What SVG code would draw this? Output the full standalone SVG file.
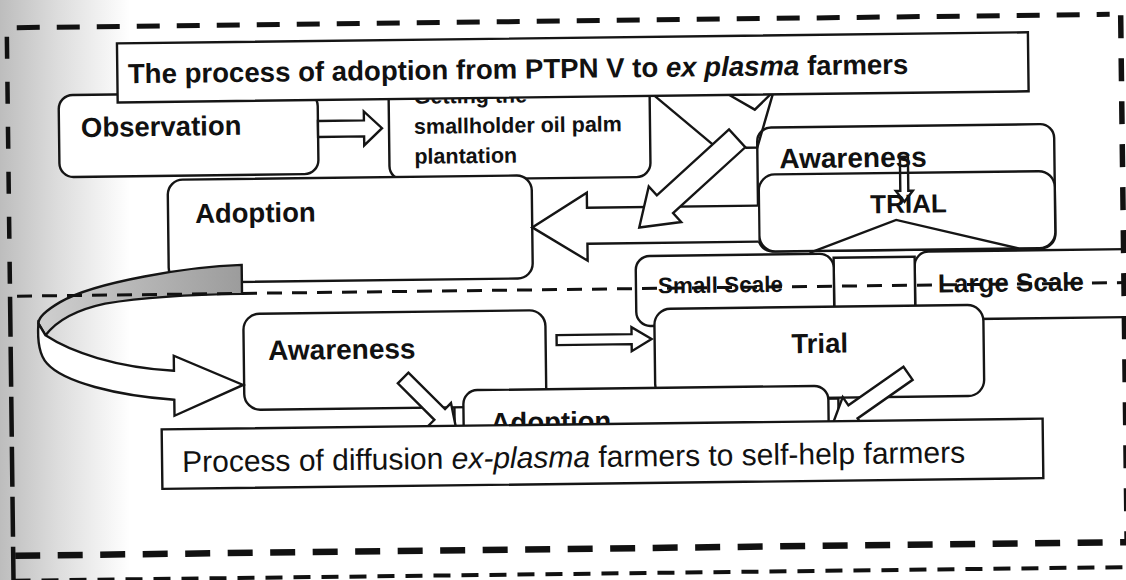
<svg xmlns="http://www.w3.org/2000/svg" width="1126" height="580" viewBox="0 0 1126 580">
<defs>
<linearGradient id="scan" x1="0" y1="0" x2="1" y2="0">
<stop offset="0" stop-color="#bdbdbd"/><stop offset="0.45" stop-color="#dddddd"/><stop offset="1" stop-color="#ffffff"/>
</linearGradient>
<linearGradient id="shade" x1="0" y1="0" x2="1" y2="0">
<stop offset="0" stop-color="#cfcfcf"/><stop offset="1" stop-color="#9c9c9c"/>
</linearGradient>
<style>
.box{fill:#fff;stroke:#151515;stroke-width:2.4}
.ln{fill:none;stroke:#151515;stroke-width:2.4}
.arr{fill:#fff;stroke:#151515;stroke-width:2.4;stroke-linejoin:miter}
.lb{font-family:"Liberation Sans",Arial,sans-serif;font-weight:bold;fill:#111}
.tt{font-family:"Liberation Sans",Arial,sans-serif;fill:#111}
.dash{fill:none;stroke:#111}
</style>
</defs>
<rect width="1126" height="580" fill="#fff"/>
<rect width="130" height="580" fill="url(#scan)"/>
<g transform="rotate(-0.7 563 290)">
<g id="node-getting">
<rect class="box" x="391" y="70" width="261" height="108" rx="14"/>
<text class="lb" font-size="21.5"><tspan x="416" y="102">Getting the</tspan><tspan x="416" y="132">smallholder oil palm</tspan><tspan x="416" y="162">plantation</tspan></text>
</g>
<g id="node-observation">
<rect class="box" x="61" y="89" width="259" height="82" rx="14"/>
<text class="lb" font-size="27.5" x="83" y="131">Observation</text>
</g>
<g id="node-adoption-1">
<rect class="box" x="169" y="175" width="364" height="103" rx="15"/>
<text class="lb" font-size="27.5" x="196" y="218.5">Adoption</text>
</g>
<g id="node-large-scale">
<rect class="box" x="915" y="256" width="240" height="68" rx="14"/>
<text class="lb" font-size="26" x="938" y="297">Large Scale</text>
</g>
<g id="node-link">
<rect class="box" x="834" y="261" width="81" height="60"/>
</g>
<g id="node-small-scale">
<rect class="box" x="636" y="257" width="198" height="70" rx="14"/>
<text class="lb" font-size="22.5" x="658" y="294.5">Small Scale</text>
</g>
<g id="node-awareness-1">
<rect class="box" x="759" y="130" width="297" height="124" rx="14"/>
<text class="lb" font-size="28" x="781" y="171">Awareness</text>
</g>
<g id="node-trial-1">
<rect class="box" x="760" y="177" width="296" height="77" rx="16"/>
<text class="lb" font-size="26" x="909.5" y="217" text-anchor="middle">TRIAL</text>
</g>
<g id="node-back">
<rect class="box" x="453" y="402" width="384" height="40"/>
</g>
<g id="node-awareness-2">
<rect class="box" x="243" y="310" width="302" height="96" rx="16"/>
<text class="lb" font-size="28" x="267.5" y="356.4">Awareness</text>
</g>
<g id="node-trial-2">
<rect class="box" x="654" y="310" width="329" height="91" rx="16"/>
<text class="lb" font-size="27.5" x="819" y="356" text-anchor="middle">Trial</text>
</g>
<g id="node-adoption-2">
<rect class="box" x="462" y="389" width="365" height="60" rx="14"/>
<text class="lb" font-size="27.5" x="489" y="431">Adoption</text>
</g>
<g id="connectors">
<polyline class="ln" points="657,97 720,151"/>
<polyline class="ln" points="731.7,97 757,112 772.8,97"/>
<polyline class="ln" points="775.1,97 759,150 747,150"/>
<polygon class="arr" points="320,118 366,118 366,109 384,126 366,143 366,134 320,134"/>
<path class="arr" d="M759,208 L588,208 L588,193 L533,227 L588,261 L588,244 L759,244"/>
<polygon class="arr" points="731,131.5 658,196.5 650,187.5 640,228.5 682,223.5 674,214.5 747,149.5"/>
<polygon class="ln" points="901.5,161 909.5,161 909.5,195 914,195 905.5,206 897,195 901.5,195"/>
<polyline class="ln" points="810,256 897,224 1019,254"/>
<path d="M242,261 C190,262 95,276 60,296 C46,304 38,311 38,317 L45,329 C55,316 75,304 105,298 C145,292 200,290 242,290 Z" fill="url(#shade)" stroke="#151515" stroke-width="2.4"/>
<path class="arr" d="M38,317 L45,329 C70,346 115,362 173,366 L173,351 L242,381 L173,411 L173,395 C115,390 62,376 46,357 C38,348 37,330 38,317 Z"/>
<polygon class="arr" points="556,335 631,335 631,328 651,340 631,352 631,345 556,345"/>
<polygon class="arr" points="407.4,370.8 443.6,407.7 449.6,401.7 455,430 426.8,424.1 432.8,418.2 396.7,381.3"/>
<polygon class="arr" points="902.5,370.9 847,408.8 841.4,400.5 830,430 861.6,430.3 856,422 911.5,384.1"/>
</g>
<g id="title-adoption">
<rect class="box" x="120" y="38" width="911" height="59"/>
<text class="lb" font-size="27.6" x="130.5" y="78">The process of adoption from PTPN V to <tspan font-style="italic">ex plasma</tspan> farmers</text>
</g>
<g id="title-diffusion">
<rect class="box" x="160" y="424.5" width="881" height="59.5"/>
<text class="tt" font-size="30" x="180" y="467.4">Process of diffusion <tspan font-style="italic">ex-plasma</tspan> farmers to self-help farmers</text>
</g>
<g id="frame">
<path class="dash" d="M20,21 H1113" stroke-width="5" stroke-dasharray="23 17"/>
<path class="dash" d="M10,30 V290" stroke-width="4.5" stroke-dasharray="22 23"/>
<path class="dash" d="M10,290 V580" stroke-width="4.5" stroke-dasharray="40 10"/>
<path class="dash" d="M1124,22 V550" stroke-width="5.5" stroke-dasharray="23 20"/>
<path class="dash" d="M12,549 H1124" stroke-width="6.5" stroke-dasharray="25 17.5"/>
<path class="dash" d="M10,574 H1130" stroke-width="4" stroke-dasharray="17 11"/>
<path class="dash" d="M17,289.5 H1130" stroke-width="3" stroke-dasharray="15 10"/>
</g>
</g>
</svg>
